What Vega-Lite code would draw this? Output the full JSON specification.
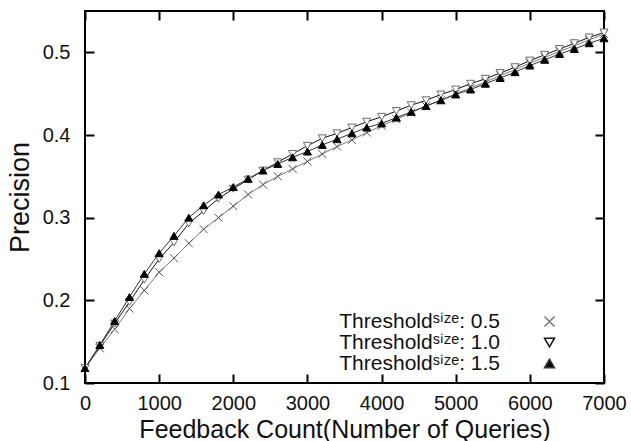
{
  "$schema": "https://vega.github.io/schema/vega-lite/v6.json",
  "width": 519,
  "height": 372,
  "autosize": "none",
  "padding": {"left": 85, "top": 11, "right": 27, "bottom": 58},
  "background": "white",
  "config": {
    "view": {"stroke": "#000000", "strokeWidth": 2},
    "font": "Liberation Sans",
    "axis": {
      "labelFont": "Liberation Sans",
      "titleFont": "Liberation Sans",
      "labelFontSize": 20,
      "titleFontSize": 25,
      "titleFontWeight": "normal",
      "labelColor": "#111111",
      "titleColor": "#111111"
    },
    "legend": {
      "labelFont": "Liberation Sans",
      "labelFontSize": 21,
      "labelColor": "#111111",
      "labelLimit": 0
    }
  },
  "data": {"values": [
    {"x":0,"p":0.118,"s":"0.5"},{"x":200,"p":0.142,"s":"0.5"},{"x":400,"p":0.165,"s":"0.5"},{"x":600,"p":0.190,"s":"0.5"},{"x":800,"p":0.212,"s":"0.5"},{"x":1000,"p":0.234,"s":"0.5"},{"x":1200,"p":0.251,"s":"0.5"},{"x":1400,"p":0.269,"s":"0.5"},{"x":1600,"p":0.286,"s":"0.5"},{"x":1800,"p":0.300,"s":"0.5"},{"x":2000,"p":0.314,"s":"0.5"},{"x":2200,"p":0.328,"s":"0.5"},{"x":2400,"p":0.340,"s":"0.5"},{"x":2600,"p":0.350,"s":"0.5"},{"x":2800,"p":0.359,"s":"0.5"},{"x":3000,"p":0.368,"s":"0.5"},{"x":3200,"p":0.377,"s":"0.5"},{"x":3400,"p":0.386,"s":"0.5"},{"x":3600,"p":0.394,"s":"0.5"},{"x":3800,"p":0.403,"s":"0.5"},{"x":4000,"p":0.411,"s":"0.5"},{"x":4200,"p":0.419,"s":"0.5"},{"x":4400,"p":0.427,"s":"0.5"},{"x":4600,"p":0.435,"s":"0.5"},{"x":4800,"p":0.442,"s":"0.5"},{"x":5000,"p":0.450,"s":"0.5"},{"x":5200,"p":0.457,"s":"0.5"},{"x":5400,"p":0.464,"s":"0.5"},{"x":5600,"p":0.472,"s":"0.5"},{"x":5800,"p":0.479,"s":"0.5"},{"x":6000,"p":0.487,"s":"0.5"},{"x":6200,"p":0.494,"s":"0.5"},{"x":6400,"p":0.501,"s":"0.5"},{"x":6600,"p":0.508,"s":"0.5"},{"x":6800,"p":0.515,"s":"0.5"},{"x":7000,"p":0.522,"s":"0.5"},
    {"x":0,"p":0.118,"s":"1.0"},{"x":200,"p":0.145,"s":"1.0"},{"x":400,"p":0.172,"s":"1.0"},{"x":600,"p":0.198,"s":"1.0"},{"x":800,"p":0.225,"s":"1.0"},{"x":1000,"p":0.250,"s":"1.0"},{"x":1200,"p":0.270,"s":"1.0"},{"x":1400,"p":0.293,"s":"1.0"},{"x":1600,"p":0.308,"s":"1.0"},{"x":1800,"p":0.323,"s":"1.0"},{"x":2000,"p":0.335,"s":"1.0"},{"x":2200,"p":0.346,"s":"1.0"},{"x":2400,"p":0.357,"s":"1.0"},{"x":2600,"p":0.367,"s":"1.0"},{"x":2800,"p":0.377,"s":"1.0"},{"x":3000,"p":0.387,"s":"1.0"},{"x":3200,"p":0.396,"s":"1.0"},{"x":3400,"p":0.402,"s":"1.0"},{"x":3600,"p":0.409,"s":"1.0"},{"x":3800,"p":0.416,"s":"1.0"},{"x":4000,"p":0.422,"s":"1.0"},{"x":4200,"p":0.429,"s":"1.0"},{"x":4400,"p":0.436,"s":"1.0"},{"x":4600,"p":0.442,"s":"1.0"},{"x":4800,"p":0.449,"s":"1.0"},{"x":5000,"p":0.455,"s":"1.0"},{"x":5200,"p":0.462,"s":"1.0"},{"x":5400,"p":0.468,"s":"1.0"},{"x":5600,"p":0.475,"s":"1.0"},{"x":5800,"p":0.482,"s":"1.0"},{"x":6000,"p":0.490,"s":"1.0"},{"x":6200,"p":0.497,"s":"1.0"},{"x":6400,"p":0.504,"s":"1.0"},{"x":6600,"p":0.511,"s":"1.0"},{"x":6800,"p":0.518,"s":"1.0"},{"x":7000,"p":0.524,"s":"1.0"},
    {"x":0,"p":0.118,"s":"1.5"},{"x":200,"p":0.146,"s":"1.5"},{"x":400,"p":0.175,"s":"1.5"},{"x":600,"p":0.204,"s":"1.5"},{"x":800,"p":0.232,"s":"1.5"},{"x":1000,"p":0.257,"s":"1.5"},{"x":1200,"p":0.278,"s":"1.5"},{"x":1400,"p":0.300,"s":"1.5"},{"x":1600,"p":0.315,"s":"1.5"},{"x":1800,"p":0.328,"s":"1.5"},{"x":2000,"p":0.337,"s":"1.5"},{"x":2200,"p":0.347,"s":"1.5"},{"x":2400,"p":0.357,"s":"1.5"},{"x":2600,"p":0.365,"s":"1.5"},{"x":2800,"p":0.373,"s":"1.5"},{"x":3000,"p":0.380,"s":"1.5"},{"x":3200,"p":0.388,"s":"1.5"},{"x":3400,"p":0.395,"s":"1.5"},{"x":3600,"p":0.402,"s":"1.5"},{"x":3800,"p":0.409,"s":"1.5"},{"x":4000,"p":0.414,"s":"1.5"},{"x":4200,"p":0.421,"s":"1.5"},{"x":4400,"p":0.428,"s":"1.5"},{"x":4600,"p":0.435,"s":"1.5"},{"x":4800,"p":0.442,"s":"1.5"},{"x":5000,"p":0.449,"s":"1.5"},{"x":5200,"p":0.455,"s":"1.5"},{"x":5400,"p":0.462,"s":"1.5"},{"x":5600,"p":0.469,"s":"1.5"},{"x":5800,"p":0.476,"s":"1.5"},{"x":6000,"p":0.484,"s":"1.5"},{"x":6200,"p":0.491,"s":"1.5"},{"x":6400,"p":0.498,"s":"1.5"},{"x":6600,"p":0.504,"s":"1.5"},{"x":6800,"p":0.511,"s":"1.5"},{"x":7000,"p":0.517,"s":"1.5"}
  ]},
  "resolve": {"axis": {"x": "independent", "y": "independent"}},
  "layer": [
    {
      "mark": {"type": "line", "strokeWidth": 1},
      "encoding": {
        "x": {"field": "x", "type": "quantitative", "scale": {"domain": [0, 7000], "nice": false, "zero": false},
              "axis": {"orient": "bottom", "values": [0,1000,2000,3000,4000,5000,6000,7000], "format": "d", "domain": false, "grid": false, "ticks": true, "tickSize": 9, "offset": -9, "tickWidth": 2, "tickColor": "#000000", "labelPadding": 10, "title": "Feedback Count(Number of Queries)", "titlePadding": 4, "labelFlush": false, "zindex": 1}},
        "y": {"field": "p", "type": "quantitative", "scale": {"domain": [0.1, 0.55], "nice": false, "zero": false},
              "axis": {"orient": "left", "values": [0.1,0.2,0.3,0.4,0.5], "format": ".1f", "domain": false, "grid": false, "ticks": true, "tickSize": 9, "offset": -9, "tickWidth": 2, "tickColor": "#000000", "labelPadding": 15, "title": "Precision", "titleFontSize": 27, "titlePadding": 8, "labelFlush": false, "zindex": 1}},
        "color": {"field": "s", "type": "nominal", "scale": {"domain": ["0.5","1.0","1.5"], "range": ["#7a7a7a","#111111","#333333"]},
                  "legend": {
                    "title": null,
                    "orient": "none",
                    "legendX": 454,
                    "legendY": 300,
                    "padding": 0,
                    "symbolSize": 100,
                    "rowPadding": -3,
                    "labelAlign": "right",
                    "labelOffset": -60,
                    "labelExpr": "'Thresholdˢⁱᶻᵉ: ' + datum.label",
                    "encode": {
                      "symbols": {
                        "update": {
                          "shape": {"signal": "datum.value === '0.5' ? 'M-0.8,-0.8L0.8,0.8M-0.8,0.8L0.8,-0.8M-6,0L6,0' : datum.value === '1.0' ? 'M-0.8,-0.7L0.8,-0.7L0,0.8ZM-6,0L6,0' : 'M-0.8,0.7L0.8,0.7L0,-0.8ZM-6,0L6,0'"},
                          "fill": {"signal": "datum.value === '0.5' ? 'transparent' : datum.value === '1.0' ? '#ffffff' : '#000000'"},
                          "stroke": {"signal": "datum.value === '0.5' ? '#8a8a8a' : '#111111'"},
                          "strokeWidth": {"value": 1.5},
                          "opacity": {"value": 1}
                        }
                      }
                    }
                  }}
      }
    },
    {
      "mark": {"type": "point", "size": 64, "strokeWidth": 1, "opacity": 1},
      "encoding": {
        "x": {"field": "x", "type": "quantitative",
              "axis": {"orient": "top", "values": [0,1000,2000,3000,4000,5000,6000,7000], "labels": false, "title": null, "domain": false, "grid": false, "ticks": true, "tickSize": 9, "offset": -9, "tickWidth": 2, "tickColor": "#000000", "zindex": 1}},
        "y": {"field": "p", "type": "quantitative",
              "axis": {"orient": "right", "values": [0.1,0.2,0.3,0.4,0.5], "labels": false, "title": null, "domain": false, "grid": false, "ticks": true, "tickSize": 9, "offset": -9, "tickWidth": 2, "tickColor": "#000000", "zindex": 1}},
        "shape": {"field": "s", "type": "nominal",
                  "scale": {"domain": ["0.5","1.0","1.5"], "range": ["M-1,-1L1,1M-1,1L1,-1", "triangle-down", "triangle-up"]}, "legend": null},
        "fill": {"field": "s", "type": "nominal", "scale": {"domain": ["0.5","1.0","1.5"], "range": ["transparent","#ffffff","#000000"]}, "legend": null},
        "stroke": {"field": "s", "type": "nominal", "scale": {"domain": ["0.5","1.0","1.5"], "range": ["#555555","#6a6a6a","#000000"]}, "legend": null}
      }
    }
  ]
}
